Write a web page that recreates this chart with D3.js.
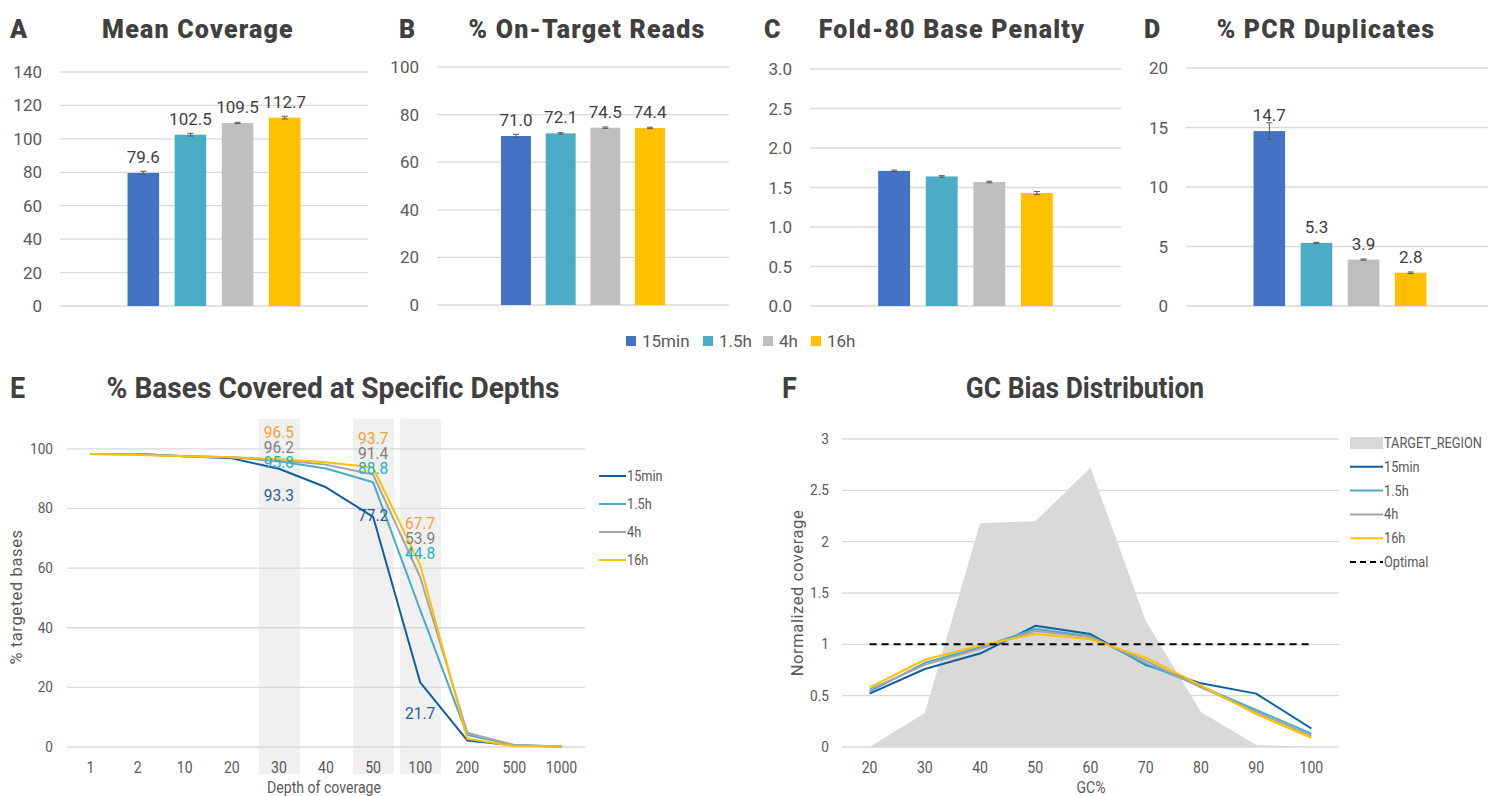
<!DOCTYPE html>
<html>
<head>
<meta charset="utf-8">
<script src="https://cdn.jsdelivr.net/npm/d3@7"></script>
<style>
  body { margin: 0; background: #fff; }
  svg { display: block; }
</style>
</head>
<body>
<div id="chart"></div>
<script>
// series shared by every panel
var series = ["15min", "1.5h", "4h", "16h"];
var barColors = ["#4472C4", "#4BACC6", "#BFBFBF", "#FFC000"];
var lineColors = ["#0F5FA0", "#4BACC6", "#A5A5A5", "#FFC000"];
var labelColors = ["#1F5F9F", "#1CB4CC", "#7F7F7F", "#F5A033"];

// top row bar panels
var meanCoverage = [79.6, 102.5, 109.5, 112.7];
var meanCoverageErr = [1.0, 0.8, 0.4, 0.8];
var onTarget = [71.0, 72.1, 74.5, 74.4];
var onTargetErr = [0.7, 0.3, 0.3, 0.3];
var fold80 = [1.71, 1.64, 1.57, 1.43];
var fold80Err = [0.01, 0.01, 0.01, 0.02];
var pcrDup = [14.7, 5.3, 3.9, 2.8];
var pcrDupErr = [0.7, 0.05, 0.05, 0.06];

// panel E: % bases covered at depth
var depths = ["1", "2", "10", "20", "30", "40", "50", "100", "200", "500", "1000"];
var depth15min = [98.3, 98.3, 97.5, 96.8, 93.3, 87.1, 77.2, 21.7, 2.2, 0.5, 0.2];
var depth1_5h  = [98.3, 98.3, 97.5, 97.2, 95.8, 93.4, 88.8, 46.0, 4.0, 0.7, 0.2];
var depth4h    = [98.3, 98.1, 97.5, 97.2, 96.2, 94.7, 91.4, 57.0, 4.8, 0.6, 0.2];
var depth16h   = [98.3, 97.9, 97.5, 97.2, 96.5, 95.5, 93.7, 61.0, 2.8, 0.3, 0.2];
var highlightDepths = ["30", "50", "100"];
// labels written over the highlighted depths (per series)
var depthLabels = {
  "30":  [93.3, 95.8, 96.2, 96.5],
  "50":  [77.2, 88.8, 91.4, 93.7],
  "100": [21.7, 44.8, 53.9, 67.7]
};

// panel F: GC bias
var gcBins = ["20", "30", "40", "50", "60", "70", "80", "90", "100"];
var targetRegion = [0.0, 0.33, 2.18, 2.2, 2.72, 1.23, 0.34, 0.02, 0.0];
var gc15min = [0.52, 0.76, 0.91, 1.18, 1.10, 0.80, 0.62, 0.52, 0.18];
var gc1_5h  = [0.54, 0.82, 0.97, 1.15, 1.08, 0.81, 0.59, 0.36, 0.13];
var gc4h    = [0.56, 0.80, 0.96, 1.13, 1.07, 0.84, 0.58, 0.34, 0.11];
var gc16h   = [0.58, 0.85, 0.99, 1.10, 1.05, 0.87, 0.60, 0.32, 0.09];
var optimal = [1, 1, 1, 1, 1, 1, 1, 1, 1];

var W = 1488, H = 796;
var gridColor = "#D9D9D9", tickColor = "#595959", titleColor = "#404040";
var sans = "Roboto, 'Liberation Sans', Arial, sans-serif";

var svg = d3.select("#chart").append("svg")
    .attr("width", W).attr("height", H)
    .style("font-family", sans);

// narrow text for the bottom row: no condensed face installed, so squeeze horizontally
function condText(g, x, y, txt, size, anchor, color, weight, sx){
  return g.append("text")
    .attr("transform", "translate(" + x + "," + y + ") scale(" + (sx || 0.88) + ",1)")
    .attr("text-anchor", anchor || "start")
    .attr("font-size", size)
    .attr("font-weight", weight || 400)
    .attr("fill", color || tickColor)
    .text(txt);
}

/**
 * one bar panel of the top row
 */
function drawBarPanel(cfg){
  var g = svg.append("g");
  var y = d3.scaleLinear().domain([0, cfg.max]).range([cfg.y0, cfg.y1]);
  var width = cfg.x1 - cfg.x0;
  var step = width * 0.153;
  var cx = (cfg.x0 + cfg.x1) / 2;
  var x = d3.scaleBand().domain(series)
      .range([cx - 2 * step, cx + 2 * step])
      .paddingInner(0.33).paddingOuter(0.165);

  // panel letter and title
  g.append("text").attr("x", cfg.letterX).attr("y", 38)
    .attr("font-size", 25).attr("font-weight", 900).attr("fill", titleColor)
    .text(cfg.letter);
  g.append("text").attr("x", cfg.titleX).attr("y", 38)
    .attr("text-anchor", "middle")
    .attr("font-size", 25).attr("font-weight", 900).attr("fill", titleColor)
    .attr("letter-spacing", 1.2)
    .text(cfg.title);

  // gridlines + tick labels
  var ticks = d3.range(0, cfg.max + cfg.step / 2, cfg.step);
  g.selectAll(".grid").data(ticks).enter().append("line")
    .attr("x1", cfg.x0).attr("x2", cfg.x1)
    .attr("y1", function(d){ return y(d); }).attr("y2", function(d){ return y(d); })
    .attr("stroke", gridColor).attr("stroke-width", 1.3);
  g.selectAll(".tick").data(ticks).enter().append("text")
    .attr("x", cfg.tickX).attr("y", function(d){ return y(d) + 6; })
    .attr("text-anchor", "end").attr("font-size", 17).attr("fill", tickColor)
    .text(function(d){ return d3.format(cfg.fmt)(d); });

  // bars
  g.selectAll(".bar").data(cfg.values).enter().append("rect")
    .attr("x", function(d, i){ return x(series[i]); })
    .attr("width", x.bandwidth())
    .attr("y", function(d){ return y(d); })
    .attr("height", function(d){ return y(0) - y(d); })
    .attr("fill", function(d, i){ return barColors[i]; });

  // error bars
  cfg.values.forEach(function(v, i){
    var xc = x(series[i]) + x.bandwidth() / 2;
    var e = cfg.err[i];
    g.append("line").attr("x1", xc).attr("x2", xc)
      .attr("y1", y(v - e)).attr("y2", y(v + e))
      .attr("stroke", "#595959").attr("stroke-width", 1);
    [v - e, v + e].forEach(function(t){
      g.append("line").attr("x1", xc - 3).attr("x2", xc + 3)
        .attr("y1", y(t)).attr("y2", y(t))
        .attr("stroke", "#595959").attr("stroke-width", 1);
    });
  });

  // value labels
  if(cfg.labels){
    g.selectAll(".val").data(cfg.values).enter().append("text")
      .attr("x", function(d, i){ return x(series[i]) + x.bandwidth() / 2; })
      .attr("y", function(d){ return y(d) - 10; })
      .attr("text-anchor", "middle").attr("font-size", 17).attr("fill", titleColor)
      .text(function(d){ return d.toFixed(1); });
  }
} // end drawBarPanel()

drawBarPanel({letter: "A", letterX: 10, title: "Mean Coverage", titleX: 198,
  x0: 60, x1: 368, y0: 306, y1: 72, max: 140, step: 20, fmt: "d", tickX: 42,
  values: meanCoverage, err: meanCoverageErr, labels: true});
drawBarPanel({letter: "B", letterX: 399, title: "% On-Target Reads", titleX: 587,
  x0: 437, x1: 729, y0: 305, y1: 67, max: 100, step: 20, fmt: "d", tickX: 419,
  values: onTarget, err: onTargetErr, labels: true});
drawBarPanel({letter: "C", letterX: 764, title: "Fold-80 Base Penalty", titleX: 952,
  x0: 810, x1: 1121, y0: 306, y1: 69, max: 3, step: 0.5, fmt: ".1f", tickX: 792,
  values: fold80, err: fold80Err, labels: false});
drawBarPanel({letter: "D", letterX: 1144, title: "% PCR Duplicates", titleX: 1326,
  x0: 1186, x1: 1494, y0: 306, y1: 68, max: 20, step: 5, fmt: "d", tickX: 1168,
  values: pcrDup, err: pcrDupErr, labels: true});

// shared legend for the bar panels
var legendX = [626, 703, 763, 811];
var barLegend = svg.append("g");
series.forEach(function(s, i){
  barLegend.append("rect").attr("x", legendX[i]).attr("y", 336)
    .attr("width", 10).attr("height", 10).attr("fill", barColors[i]);
  barLegend.append("text").attr("x", legendX[i] + 16).attr("y", 347)
    .attr("font-size", 17).attr("fill", tickColor).text(s);
});

/**
 * one line panel of the bottom row (E and F)
 */
function drawLinePanel(cfg){
  var g = svg.append("g");
  var x = d3.scaleBand().domain(cfg.cats).range([cfg.x0, cfg.x1]);
  var xc = function(c){ return x(c) + x.bandwidth() / 2; };
  var y = d3.scaleLinear().domain([0, cfg.max]).range([cfg.y0, cfg.y1]);

  condText(g, cfg.letterX, 398, cfg.letter, 29, "start", titleColor, 700, 0.93);
  condText(g, cfg.titleX, 398, cfg.title, 29, "middle", titleColor, 700, cfg.titleScale);

  if(cfg.before) cfg.before(g, x, xc, y);

  var ticks = d3.range(0, cfg.tickMax + cfg.step / 2, cfg.step);
  g.selectAll(".grid").data(ticks).enter().append("line")
    .attr("x1", cfg.x0).attr("x2", cfg.x1)
    .attr("y1", function(d){ return y(d); }).attr("y2", function(d){ return y(d); })
    .attr("stroke", gridColor).attr("stroke-width", 1.3);
  ticks.forEach(function(d){
    condText(g, cfg.tickX, y(d) + 5, d3.format(cfg.fmt)(d), 15.5, "end");
  });
  cfg.cats.forEach(function(d){
    condText(g, xc(d), 773, d, 16, "middle");
  });

  // axis titles
  condText(g, cfg.xTitleX, 793, cfg.xTitle, 16, "middle");
  g.append("text")
    .attr("transform", "translate(" + cfg.yTitleX + "," + cfg.yTitleY + ") rotate(-90)")
    .attr("text-anchor", "middle").attr("font-size", 16.5).attr("fill", tickColor)
    .attr("letter-spacing", 0.6)
    .text(cfg.yTitle);

  if(cfg.area){
    g.append("path").datum(cfg.area)
      .attr("d", d3.area()
        .x(function(d, i){ return xc(cfg.cats[i]); })
        .y0(y(0)).y1(function(d){ return y(d); }))
      .attr("fill", "#D9D9D9");
  }

  var line = d3.line()
    .x(function(d, i){ return xc(cfg.cats[i]); })
    .y(function(d){ return y(d); });
  cfg.lines.forEach(function(vals, i){
    g.append("path").datum(vals).attr("d", line)
      .attr("fill", "none").attr("stroke", lineColors[i]).attr("stroke-width", 2)
      .attr("stroke-linejoin", "round");
  });
  if(cfg.dashed){
    g.append("path").datum(cfg.dashed).attr("d", line)
      .attr("fill", "none").attr("stroke", "#000").attr("stroke-width", 2)
      .attr("stroke-dasharray", "7,5");
  }

  if(cfg.after) cfg.after(g, x, xc, y);

  // legend
  cfg.legend.forEach(function(item, i){
    var ly = cfg.legendY + i * cfg.legendStep;
    if(item.type == "area"){
      g.append("rect").attr("x", cfg.legendX).attr("y", ly - 6)
        .attr("width", cfg.legendLen).attr("height", 12).attr("fill", "#D9D9D9");
    } else {
      g.append("line").attr("x1", cfg.legendX).attr("x2", cfg.legendX + cfg.legendLen)
        .attr("y1", ly).attr("y2", ly)
        .attr("stroke", item.color).attr("stroke-width", 2)
        .attr("stroke-dasharray", item.dash || null);
    }
    condText(g, cfg.legendX + cfg.legendLen + 1, ly + 5, item.name, 14.5, "start");
  });
} // end drawLinePanel()

drawLinePanel({
  letter: "E", letterX: 10, title: "% Bases Covered at Specific Depths", titleX: 333, titleScale: 0.97,
  cats: depths, x0: 67, x1: 585, y0: 747, y1: 419, max: 110, tickMax: 100, step: 20,
  fmt: "d", tickX: 53,
  xTitle: "Depth of coverage", xTitleX: 324, yTitle: "% targeted bases", yTitleX: 22, yTitleY: 597,
  lines: [depth15min, depth1_5h, depth4h, depth16h],
  before: function(g, x, xc, y){
    // shaded columns behind the highlighted depths
    g.selectAll(".hl").data(highlightDepths).enter().append("rect")
      .attr("x", function(d){ return xc(d) - 20; })
      .attr("width", 41)
      .attr("y", y(110)).attr("height", y(0) - y(110) + 27)
      .attr("fill", "#F0F0F0");
  },
  after: function(g, x, xc, y){
    highlightDepths.forEach(function(c){
      var vals = depthLabels[c];
      // three upper labels are stacked, the 15min label sits below the lines
      var top = c == "100" ? 523 : (c == "50" ? 438 : 432);
      [3, 2, 1].forEach(function(si, k){
        condText(g, xc(c), top + k * 15 + 6, vals[si].toFixed(1), 16.5, "middle", labelColors[si], 400, 0.94);
      });
      var by = c == "30" ? 495 : (c == "50" ? 515 : 713);
      condText(g, xc(c), by + 6, vals[0].toFixed(1), 16.5, "middle", labelColors[0], 400, 0.94);
    });
  },
  legendX: 599, legendLen: 27, legendY: 476, legendStep: 28,
  legend: [
    {name: "15min", color: lineColors[0]},
    {name: "1.5h", color: lineColors[1]},
    {name: "4h", color: lineColors[2]},
    {name: "16h", color: lineColors[3]}
  ]
});

drawLinePanel({
  letter: "F", letterX: 782, title: "GC Bias Distribution", titleX: 1085, titleScale: 0.91,
  cats: gcBins, x0: 842, x1: 1339, y0: 747, y1: 439, max: 3, tickMax: 3, step: 0.5,
  fmt: "~g", tickX: 829,
  xTitle: "GC%", xTitleX: 1091, yTitle: "Normalized coverage", yTitleX: 803, yTitleY: 593,
  area: targetRegion,
  lines: [gc15min, gc1_5h, gc4h, gc16h],
  dashed: optimal,
  legendX: 1350, legendLen: 33, legendY: 443, legendStep: 23.8,
  legend: [
    {name: "TARGET_REGION", type: "area"},
    {name: "15min", color: lineColors[0]},
    {name: "1.5h", color: lineColors[1]},
    {name: "4h", color: lineColors[2]},
    {name: "16h", color: lineColors[3]},
    {name: "Optimal", color: "#000", dash: "6,4"}
  ]
});
</script>
</body>
</html>
